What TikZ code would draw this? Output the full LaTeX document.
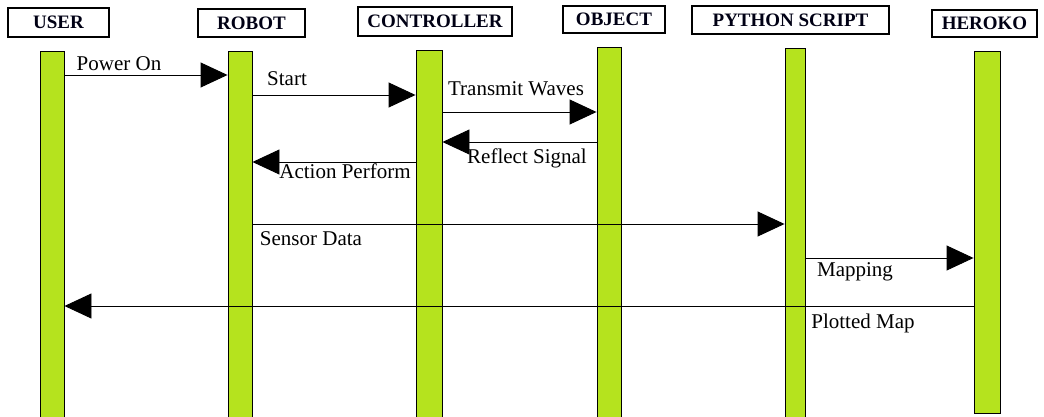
\documentclass[tikz,border=0pt]{standalone}
\usepackage{fontspec}
\setmainfont{Liberation Serif}
\usetikzlibrary{arrows.meta,calc}
\definecolor{barg}{RGB}{181,227,30}
\tikzset{
  x=1pt,y=-1pt,
  hdr/.style={draw=black,line width=1.3pt,inner sep=0pt,font=\fontsize{19}{21}\selectfont\bfseries,text=black!92!blue},
  lifebar/.style={draw=black,fill=barg,line width=0.9pt,inner sep=0pt,anchor=north},
  msg/.style={line width=0.9pt,-{Triangle[length=27pt,width=25pt]}},
  lbl/.style={inner sep=0pt,font=\fontsize{21}{23}\selectfont}
}
\begin{document}
\begin{tikzpicture}
\useasboundingbox (0,0) rectangle (1044,417);
% headers
\node[hdr,minimum width=101,minimum height=29] (huser) at (58.5,22.5) {USER\hspace{12pt}};
\node[hdr,minimum width=107,minimum height=28] (hrobot) at (251.5,23) {ROBOT\hspace{8pt}};
\node[hdr,minimum width=154,minimum height=29] (hctrl) at (435,21.5) {CONTROLLER};
\node[hdr,minimum width=102,minimum height=27] (hobj) at (614,19.5) {OBJECT\hspace{6pt}};
\node[hdr,minimum width=197,minimum height=28] (hpy) at (790.5,20) {PYTHON SCRIPT\hspace{14pt}};
\node[hdr,minimum width=105,minimum height=27] (hher) at (984.5,23.5) {HEROKO\hspace{8pt}};
% lifelines
\node[lifebar,minimum width=24,minimum height=366] (buser) at (52,51) {};
\node[lifebar,minimum width=24,minimum height=366] (brobot) at (240,51) {};
\node[lifebar,minimum width=26,minimum height=367] (bctrl) at (429,50) {};
\node[lifebar,minimum width=24,minimum height=370] (bobj) at (609,47) {};
\node[lifebar,minimum width=20,minimum height=369] (bpy) at (795,48) {};
\node[lifebar,minimum width=26,minimum height=362] (bher) at (987,51) {};
% messages
\draw[msg] (buser.east |- 0,75) -- (brobot.west |- 0,75);
\draw[msg] (brobot.east |- 0,95) -- (bctrl.west |- 0,95);
\draw[msg] (bctrl.east |- 0,112) -- (bobj.west |- 0,112);
\draw[msg] (bobj.west |- 0,142) -- (bctrl.east |- 0,142);
\draw[msg] (bctrl.west |- 0,162) -- (brobot.east |- 0,162);
\draw[msg] (brobot.east |- 0,224) -- (bpy.west |- 0,224);
\draw[msg] (bpy.east |- 0,258) -- (bher.west |- 0,258);
\draw[msg] (bher.west |- 0,306) -- (buser.east |- 0,306);
% labels
\node[lbl] (l1) at (119,64) {Power On};
\node[lbl] (l2) at (287,79) {Start};
\node[lbl] (l3) at (516,89) {Transmit Waves};
\node[lbl] (l4) at (527,158) {Reflect Signal};
\node[lbl] (l5) at (345,171) {Action Perform};
\node[lbl] (l6) at (311,239) {Sensor Data};
\node[lbl] (l7) at (855,272) {Mapping};
\node[lbl] (l8) at (863,323) {Plotted Map};
\end{tikzpicture}
\end{document}
